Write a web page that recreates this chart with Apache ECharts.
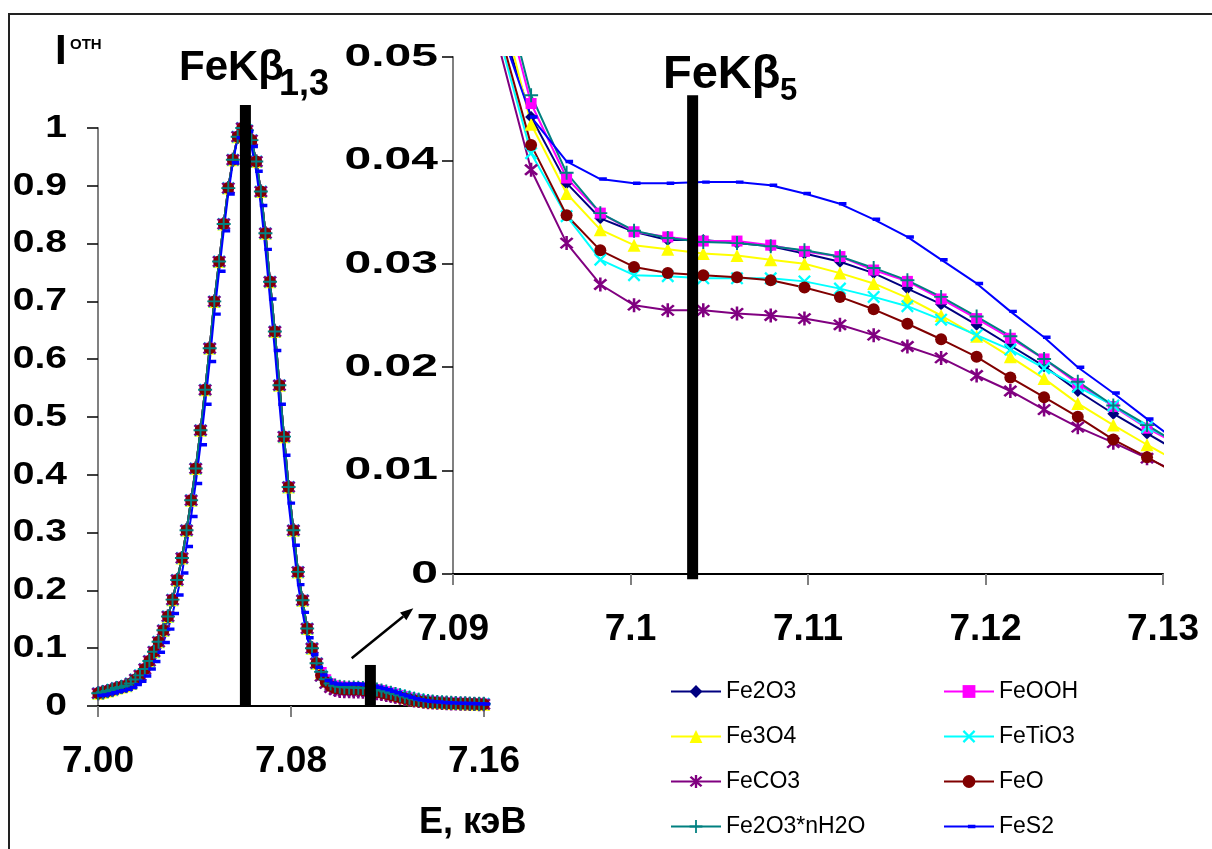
<!DOCTYPE html>
<html>
<head>
<meta charset="utf-8">
<script src="https://cdn.jsdelivr.net/npm/echarts@6/dist/echarts.min.js"></script>
<style>
  html, body { margin: 0; padding: 0; background: #fff; }
  #chart { width: 1212px; height: 849px; }
</style>
</head>
<body>
<div id="chart"></div>
<script>
// Scan energies, keV
const energyKeV = [7.0001, 7.0020, 7.0040, 7.0059, 7.0078, 7.0097, 7.0117, 7.0136, 7.0155, 7.0174,
  7.0194, 7.0213, 7.0232, 7.0251, 7.0271, 7.0290, 7.0309, 7.0328, 7.0348, 7.0367,
  7.0386, 7.0405, 7.0425, 7.0444, 7.0463, 7.0482, 7.0502, 7.0521, 7.0540, 7.0559,
  7.0579, 7.0598, 7.0617, 7.0636, 7.0656, 7.0675, 7.0694, 7.0713, 7.0733, 7.0752,
  7.0771, 7.0790, 7.0810, 7.0829, 7.0848, 7.0867, 7.0887, 7.0906, 7.0925, 7.0944,
  7.0964, 7.0983, 7.1002, 7.1021, 7.1041, 7.1060, 7.1079, 7.1098, 7.1118, 7.1137,
  7.1156, 7.1175, 7.1195, 7.1214, 7.1233, 7.1252, 7.1272, 7.1291, 7.1310, 7.1329,
  7.1349, 7.1368, 7.1387, 7.1406, 7.1426, 7.1445, 7.1464, 7.1483, 7.1503, 7.1522,
  7.1541, 7.1560, 7.1580, 7.1599];

// Kβ1,3 main peak (points 0..47), common to the oxide/carbonate samples
const peakShared = [0.022, 0.024, 0.026, 0.028, 0.031, 0.033, 0.035, 0.039, 0.046, 0.053,
  0.064, 0.078, 0.094, 0.111, 0.131, 0.155, 0.184, 0.218, 0.256, 0.304,
  0.356, 0.411, 0.477, 0.547, 0.619, 0.700, 0.769, 0.834, 0.896, 0.945,
  0.985, 1.000, 0.996, 0.979, 0.942, 0.890, 0.818, 0.734, 0.648, 0.555,
  0.466, 0.379, 0.304, 0.232, 0.183, 0.134, 0.100, 0.074];
// Kβ1,3 main peak of pyrite (slightly narrower)
const peakFeS2 = [0.018, 0.019, 0.021, 0.023, 0.025, 0.027, 0.029, 0.032, 0.037, 0.043,
  0.052, 0.064, 0.077, 0.093, 0.110, 0.133, 0.160, 0.192, 0.230, 0.276,
  0.328, 0.385, 0.452, 0.522, 0.596, 0.678, 0.752, 0.822, 0.886, 0.940,
  0.983, 1.000, 0.994, 0.968, 0.925, 0.866, 0.790, 0.704, 0.615, 0.522,
  0.434, 0.351, 0.278, 0.210, 0.162, 0.118, 0.089, 0.067];

// High-energy side (points 48..83), Kβ5 region, per sample
const tailFe2O3 = [0.0544, 0.0442, 0.0378, 0.0344, 0.0331, 0.0323, 0.0323, 0.0320, 0.0317, 0.0310,
  0.0302, 0.0291, 0.0276, 0.0261, 0.0241, 0.0221, 0.0201, 0.0177, 0.0155, 0.0136, 0.0117,
  0.0101, 0.0088, 0.0078, 0.0070, 0.0064, 0.0059, 0.0055, 0.0051, 0.0048, 0.0045, 0.0042, 0.0040, 0.0038, 0.0036, 0.0034];
const tailFeOOH = [0.0580, 0.0455, 0.0383, 0.0349, 0.0331, 0.0326, 0.0322, 0.0322, 0.0318, 0.0312,
  0.0307, 0.0294, 0.0283, 0.0266, 0.0247, 0.0228, 0.0208, 0.0184, 0.0162, 0.0141, 0.0124,
  0.0108, 0.0095, 0.0085, 0.0077, 0.0070, 0.0065, 0.0060, 0.0056, 0.0052, 0.0049, 0.0046, 0.0043, 0.0041, 0.0039, 0.0037];
const tailFe3O4 = [0.0566, 0.0435, 0.0368, 0.0333, 0.0318, 0.0314, 0.0310, 0.0308, 0.0304, 0.0300,
  0.0291, 0.0281, 0.0267, 0.0250, 0.0230, 0.0210, 0.0189, 0.0165, 0.0144, 0.0125, 0.0107,
  0.0093, 0.0082, 0.0073, 0.0066, 0.0060, 0.0055, 0.0051, 0.0048, 0.0045, 0.0042, 0.0040, 0.0038, 0.0036, 0.0034, 0.0032];
const tailFeTiO3 = [0.0526, 0.0407, 0.0346, 0.0304, 0.0289, 0.0288, 0.0286, 0.0286, 0.0286, 0.0283,
  0.0276, 0.0268, 0.0259, 0.0246, 0.0231, 0.0217, 0.0199, 0.0181, 0.0163, 0.0142, 0.0126,
  0.0111, 0.0098, 0.0088, 0.0079, 0.0072, 0.0066, 0.0061, 0.0057, 0.0053, 0.0050, 0.0047, 0.0044, 0.0042, 0.0040, 0.0038];
const tailFeCO3 = [0.0516, 0.0391, 0.0320, 0.0280, 0.0260, 0.0255, 0.0255, 0.0252, 0.0250, 0.0247,
  0.0241, 0.0231, 0.0220, 0.0209, 0.0192, 0.0177, 0.0159, 0.0142, 0.0127, 0.0112, 0.0097,
  0.0085, 0.0075, 0.0067, 0.0061, 0.0056, 0.0052, 0.0048, 0.0045, 0.0042, 0.0040, 0.0038, 0.0036, 0.0034, 0.0032, 0.0031];
const tailFeO = [0.0533, 0.0415, 0.0347, 0.0313, 0.0297, 0.0291, 0.0289, 0.0287, 0.0284, 0.0277,
  0.0268, 0.0256, 0.0242, 0.0227, 0.0210, 0.0190, 0.0171, 0.0152, 0.0130, 0.0113, 0.0095,
  0.0083, 0.0073, 0.0066, 0.0060, 0.0055, 0.0051, 0.0047, 0.0044, 0.0041, 0.0039, 0.0037, 0.0035, 0.0033, 0.0031, 0.0030];
const tailFe2O3nH2O = [0.0590, 0.0463, 0.0388, 0.0349, 0.0332, 0.0325, 0.0321, 0.0320, 0.0317, 0.0313,
  0.0307, 0.0296, 0.0284, 0.0268, 0.0249, 0.0230, 0.0208, 0.0186, 0.0163, 0.0144, 0.0124,
  0.0108, 0.0095, 0.0085, 0.0077, 0.0070, 0.0065, 0.0060, 0.0056, 0.0052, 0.0049, 0.0046, 0.0043, 0.0041, 0.0039, 0.0037];
const tailFeS2 = [0.0536, 0.0442, 0.0399, 0.0382, 0.0378, 0.0378, 0.0379, 0.0379, 0.0376, 0.0368,
  0.0358, 0.0343, 0.0326, 0.0304, 0.0281, 0.0254, 0.0229, 0.0200, 0.0175, 0.0150, 0.0126,
  0.0108, 0.0094, 0.0083, 0.0075, 0.0068, 0.0062, 0.0058, 0.0054, 0.0050, 0.0047, 0.0044, 0.0042, 0.0040, 0.0038, 0.0036];

// Tabulated line positions (keV) with bottom/top of the marker bar
const overviewLines = [[7.0611, 0, 1.04], [7.1129, 0, 0.071]];
const detailLines = [[7.1035, -0.0005, 0.0463]];

// Tick labels
const overviewXTicks = [7.00, 7.08, 7.16];
const detailXTicks = [7.09, 7.10, 7.11, 7.12, 7.13];
const overviewYTicks = [0, 0.1, 0.2, 0.3, 0.4, 0.5, 0.6, 0.7, 0.8, 0.9, 1];
const detailYTicks = [0, 0.01, 0.02, 0.03, 0.04, 0.05];

// Marker shapes
const SYM_X = 'path://M-6,-4.5L-4.5,-6L6,4.5L4.5,6Z M-6,4.5L4.5,-6L6,-4.5L-4.5,6Z';
const SYM_STAR = 'path://M-5.5,-4L-4,-5.5L5.5,4L4,5.5Z M-5.5,4L4,-5.5L5.5,-4L-4,5.5Z M-1,-6.5L1,-6.5L1,6.5L-1,6.5Z';
const SYM_PLUS = 'path://M-0.9,-6.5L0.9,-6.5L0.9,-0.9L6.5,-0.9L6.5,0.9L0.9,0.9L0.9,6.5L-0.9,6.5L-0.9,0.9L-6.5,0.9L-6.5,-0.9L-0.9,-0.9Z';
const SYM_DASH = 'path://M0,0L0.01,0M0,12L0.01,12M5,4.4L12,4.4L12,7.6L5,7.6Z';

const samples = [
  { name: 'Fe2O3',       color: '#000080', symbol: 'diamond',  size: 12, peak: peakShared, tail: tailFe2O3 },
  { name: 'FeOOH',       color: '#FF00FF', symbol: 'rect',     size: 11, peak: peakShared, tail: tailFeOOH },
  { name: 'Fe3O4',       color: '#FFFF00', symbol: 'triangle', size: 13, peak: peakShared, tail: tailFe3O4 },
  { name: 'FeTiO3',      color: '#00FFFF', symbol: SYM_X,      size: 13, peak: peakShared, tail: tailFeTiO3 },
  { name: 'FeCO3',       color: '#800080', symbol: SYM_STAR,   size: 14, peak: peakShared, tail: tailFeCO3 },
  { name: 'FeO',         color: '#800000', symbol: 'circle',   size: 12, peak: peakShared, tail: tailFeO },
  { name: 'Fe2O3*nH2O',  color: '#008080', symbol: SYM_PLUS,   size: 14, peak: peakShared, tail: tailFe2O3nH2O },
  { name: 'FeS2',        color: '#0000FF', symbol: SYM_DASH,   size: 13, peak: peakFeS2,   tail: tailFeS2 }
];

const FONT = 'Liberation Sans, Arial, sans-serif';

function seriesFor(s, gridIdx) {
  const values = s.peak.concat(s.tail);
  return {
    type: 'line',
    name: s.name,
    xAxisIndex: gridIdx,
    yAxisIndex: gridIdx,
    data: energyKeV.map((e, i) => [e, values[i]]),
    symbol: s.symbol,
    symbolSize: s.size,
    showSymbol: true,
    clip: true,
    lineStyle: { color: s.color, width: 2 },
    itemStyle: { color: s.color, borderWidth: 0 },
    emphasis: { disabled: true },
    z: 2
  };
}

function lineMarkers(data, gridIdx) {
  return {
    type: 'custom',
    xAxisIndex: gridIdx,
    yAxisIndex: gridIdx,
    data: data,
    clip: false,
    z: 5,
    silent: true,
    renderItem: function (params, api) {
      const top = api.coord([api.value(0), api.value(2)]);
      const bot = api.coord([api.value(0), api.value(1)]);
      return {
        type: 'rect',
        shape: { x: top[0] - 5.5, y: top[1], width: 11, height: bot[1] - top[1] },
        style: { fill: '#000' }
      };
    }
  };
}

function xAxisCfg(gridIdx, ticks, fmt) {
  return {
    type: 'value', gridIndex: gridIdx,
    min: ticks[0], max: ticks[ticks.length - 1],
    interval: +(ticks[1] - ticks[0]).toFixed(4),
    splitLine: { show: false },
    axisLine: { show: true, onZero: false, lineStyle: { color: '#000', width: 2 } },
    axisTick: { show: true, length: 11, lineStyle: { color: '#808080', width: 2 } },
    axisLabel: { margin: 37, formatter: fmt, color: '#000', fontSize: 37, fontWeight: 'bold', fontFamily: FONT }
  };
}
function yAxisCfg(gridIdx, ticks) {
  return {
    type: 'value', gridIndex: gridIdx,
    min: ticks[0], max: ticks[ticks.length - 1],
    interval: +(ticks[1] - ticks[0]).toFixed(4),
    splitLine: { show: false },
    axisLine: { show: true, onZero: false, lineStyle: { color: '#808080', width: 2 } },
    axisTick: { show: true, length: 11, lineStyle: { color: '#000', width: 1.5 } },
    // value labels are drawn below as horizontally widened text
    axisLabel: { show: false }
  };
}

function legendCfg(left, names) {
  return {
    orient: 'vertical', left: left, top: 680,
    itemWidth: 50, itemHeight: 16, itemGap: 22, padding: 0,
    selectedMode: false,
    textStyle: { color: '#000', fontSize: 23, fontFamily: FONT },
    data: names
  };
}

const series = [];
samples.forEach(s => series.push(seriesFor(s, 0)));
samples.forEach(s => series.push(seriesFor(s, 1)));
series.push(lineMarkers(overviewLines, 0));
series.push(lineMarkers(detailLines, 1));

// arrow from the overview Kβ5 marker toward the detail panel
const arrowStart = [351.7, 658.3], arrowTip = [413.3, 608.3];
const dx = arrowTip[0] - arrowStart[0], dy = arrowTip[1] - arrowStart[1];
const len = Math.hypot(dx, dy), ux = dx / len, uy = dy / len;
const base = [arrowTip[0] - 13 * ux, arrowTip[1] - 13 * uy];

const chart = echarts.init(document.getElementById('chart'));
const graphics = [
  { type: 'rect', shape: { x: 9, y: 14, width: 1240, height: 880 },
    style: { fill: 'none', stroke: '#222', lineWidth: 2 }, silent: true },
  { type: 'text', left: 55, top: 31, style: { text: 'I', font: 'bold 42px ' + FONT, fill: '#000' } },
  { type: 'text', left: 70, top: 37, style: { text: 'ОТН', font: 'bold 15px ' + FONT, fill: '#000' } },
  { type: 'text', left: 179, top: 47, style: { text: 'FeKβ', font: 'bold 42px ' + FONT, fill: '#000' } },
  { type: 'text', left: 279, top: 67, style: { text: '1,3', font: 'bold 36px ' + FONT, fill: '#000' } },
  { type: 'text', left: 663, top: 52, style: { text: 'FeKβ', font: 'bold 47px ' + FONT, fill: '#000' } },
  { type: 'text', left: 780, top: 76, style: { text: '5', font: 'bold 31px ' + FONT, fill: '#000' } },
  { type: 'text', left: 419, top: 805, style: { text: 'E, кэВ', font: 'bold 36px ' + FONT, fill: '#000' } },
  { type: 'line', shape: { x1: arrowStart[0], y1: arrowStart[1], x2: base[0], y2: base[1] },
    style: { stroke: '#000', lineWidth: 2.5 }, silent: true },
  { type: 'polygon', shape: { points: [
      arrowTip,
      [base[0] - 5 * uy, base[1] + 5 * ux],
      [base[0] + 5 * uy, base[1] - 5 * ux]
    ] }, style: { fill: '#000' }, silent: true }
];

chart.setOption({
  animation: false,
  backgroundColor: '#fff',
  grid: [
    { left: 98, top: 128, width: 386, height: 578 },
    { left: 453, top: 57, width: 710, height: 517 }
  ],
  xAxis: [
    xAxisCfg(0, overviewXTicks, v => v.toFixed(2)),
    xAxisCfg(1, detailXTicks, v => String(+v.toFixed(2)))
  ],
  yAxis: [
    yAxisCfg(0, overviewYTicks),
    yAxisCfg(1, detailYTicks)
  ],
  legend: [
    legendCfg(670, ['Fe2O3', 'Fe3O4', 'FeCO3', 'Fe2O3*nH2O']),
    legendCfg(943, ['FeOOH', 'FeTiO3', 'FeO', 'FeS2']),
  ],
  series: series
});

// y value labels, placed on the axis ticks through the axis scale
function yLabels(axisIdx, ticks, digits, rightX, widen) {
  return ticks.map(v => ({
    type: 'text',
    x: rightX,
    y: chart.convertToPixel({ yAxisIndex: axisIdx }, v),
    scaleX: widen,
    silent: true,
    style: { text: String(+v.toFixed(digits)), font: 'bold 32px ' + FONT, fill: '#000',
      align: 'right', verticalAlign: 'middle' }
  }));
}
chart.setOption({
  graphic: graphics
    .concat(yLabels(0, overviewYTicks, 1, 67, 1.22))
    .concat(yLabels(1, detailYTicks, 2, 438, 1.5))
});
</script>
</body>
</html>
